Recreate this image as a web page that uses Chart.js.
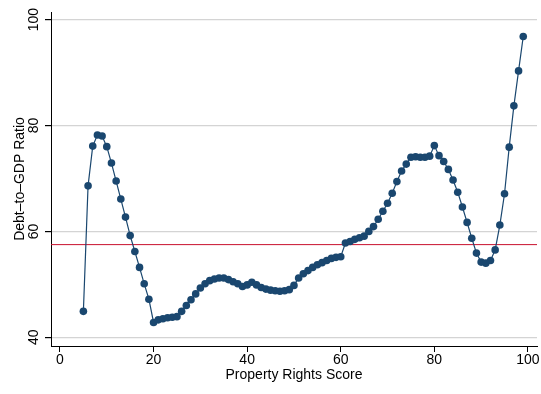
<!DOCTYPE html>
<html>
<head>
<meta charset="utf-8">
<script src="https://cdn.jsdelivr.net/npm/chart.js@4.4.0/dist/chart.umd.min.js"></script>
<style>
  html, body { margin: 0; padding: 0; background: #fff; }
  #wrap { width: 541px; height: 394px; position: relative; }
</style>
</head>
<body>
<div id="wrap"><canvas id="chart"></canvas></div>
<script>
// Property rights score (x) and debt-to-GDP ratio (y)
const scores = [
  5, 6, 7, 8, 9, 10, 11, 12, 13, 14, 15, 16, 17, 18, 19, 20, 21, 22, 23, 24,
  25, 26, 27, 28, 29, 30, 31, 32, 33, 34, 35, 36, 37, 38, 39, 40, 41, 42, 43, 44,
  45, 46, 47, 48, 49, 50, 51, 52, 53, 54, 55, 56, 57, 58, 59, 60, 61, 62, 63, 64,
  65, 66, 67, 68, 69, 70, 71, 72, 73, 74, 75, 76, 77, 78, 79, 80, 81, 82, 83, 84,
  85, 86, 87, 88, 89, 90, 91, 92, 93, 94, 95, 96, 97, 98, 99
];
const debtRatio = [
  44.9, 68.6, 76.1, 78.2, 78.0, 76.0, 72.9, 69.5, 66.1, 62.7, 59.2, 56.2, 53.2, 50.1, 47.2, 42.8, 43.3, 43.5, 43.7, 43.8,
  43.9, 44.9, 46.0, 47.1, 48.2, 49.3, 50.1, 50.7, 51.0, 51.2, 51.2, 50.9, 50.5, 50.1, 49.6, 49.9, 50.4, 49.9, 49.4, 49.1,
  48.9, 48.8, 48.7, 48.8, 49.0, 49.8, 51.2, 52.0, 52.6, 53.2, 53.7, 54.1, 54.5, 54.9, 55.1, 55.2, 57.8, 58.1, 58.5, 58.8,
  59.1, 60.0, 60.9, 62.3, 63.8, 65.3, 67.2, 69.4, 71.4, 72.7, 74.0, 74.1, 74.0, 74.0, 74.2, 76.2, 74.3, 73.2, 71.7, 69.7,
  67.4, 64.6, 61.7, 58.7, 55.9, 54.2, 54.0, 54.5, 56.5, 61.2, 67.1, 75.9, 83.7, 90.3, 96.8
];
const meanDebt = 57.5;

const xTicks = [0, 20, 40, 60, 80, 100];
const yTicks = [40, 60, 80, 100];
const xRange = [-1.92, 101.94];
const yRange = [38.36, 101.42];

const navy = "#1a476f";
const font = "'Liberation Sans', Arial, Helvetica, sans-serif";

const points = scores.map((s, i) => ({ x: s, y: debtRatio[i] }));

new Chart(document.getElementById("chart"), {
  type: "line",
  data: {
    datasets: [
      {
        label: "Debt-to-GDP",
        data: points,
        borderColor: navy,
        borderWidth: 1.2,
        backgroundColor: navy,
        pointBackgroundColor: navy,
        pointBorderWidth: 0,
        pointRadius: 3.8,
        tension: 0,
        order: 1
      },
      {
        label: "Mean",
        data: [{ x: xRange[0], y: meanDebt }, { x: xRange[1], y: meanDebt }],
        borderColor: "#c8102e",
        borderWidth: 1,
        pointRadius: 0,
        order: 2
      }
    ]
  },
  options: {
    responsive: true,
    maintainAspectRatio: false,
    animation: false,
    layout: { padding: { top: 12, right: 2, left: 0, bottom: 0 } },
    plugins: { legend: { display: false }, tooltip: { enabled: false } },
    scales: {
      x: {
        type: "linear",
        min: xRange[0],
        max: xRange[1],
        afterBuildTicks: s => { s.ticks = xTicks.map(v => ({ value: v })); },
        afterFit: s => {
          s.height = 48;
          s.paddingLeft = 0;
          s.paddingRight = 0;
        },
        grid: { drawOnChartArea: false, tickLength: 6, tickColor: "#000" },
        border: { color: "#000", width: 1 },
        ticks: { color: "#000", padding: 0, font: { family: font, size: 14 } },
        title: {
          display: true,
          text: "Property Rights Score",
          color: "#000",
          font: { family: font, size: 14 },
          padding: { top: 0, bottom: 10.6 }
        }
      },
      y: {
        type: "linear",
        min: yRange[0],
        max: yRange[1],
        afterBuildTicks: s => { s.ticks = yTicks.map(v => ({ value: v })); },
        afterFit: s => {
          s.width = 51;
          s.paddingTop = 0;
          s.paddingBottom = 0;
        },
        grid: { color: "#d4d4d4", lineWidth: 1.2, tickLength: 6, tickColor: "#000" },
        border: { color: "#000", width: 1 },
        ticks: {
          color: "#000",
          padding: -1,
          minRotation: 90,
          maxRotation: 90,
          crossAlign: "center",
          font: { family: font, size: 14 }
        },
        title: {
          display: true,
          text: "Debt–to–GDP Ratio",
          color: "#000",
          font: { family: font, size: 14 },
          padding: { top: 11.6, bottom: 0 }
        }
      }
    }
  }
});
</script>
</body>
</html>
